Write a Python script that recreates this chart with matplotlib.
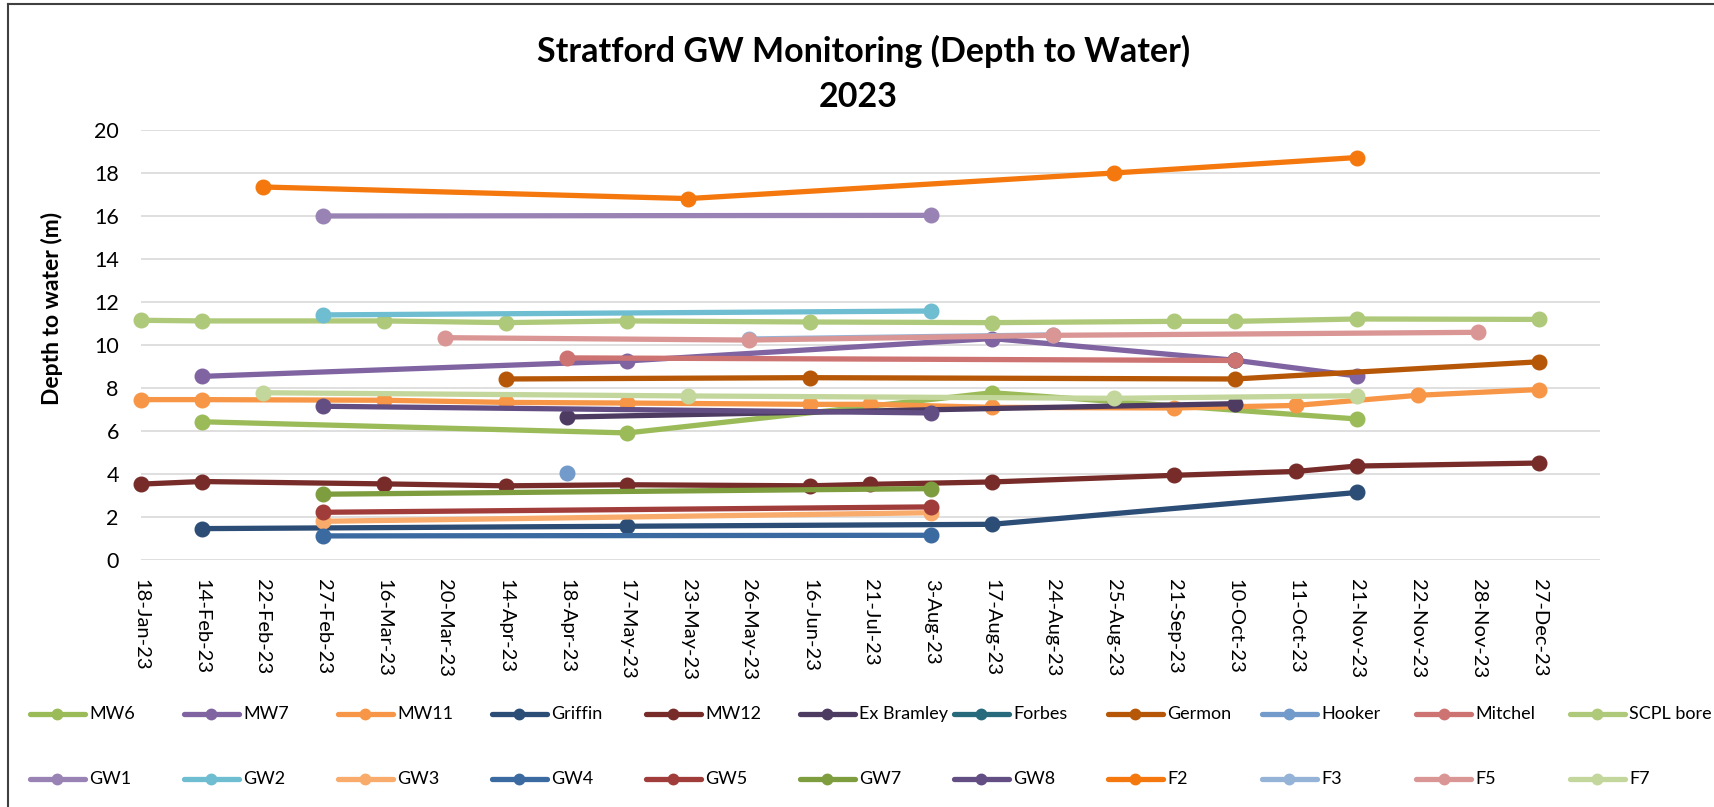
import numpy as np
import matplotlib.pyplot as plt
from matplotlib.lines import Line2D

plt.rcParams['font.family'] = ['Lato', 'DejaVu Sans']

N = None

# category axis (Excel text categories)
dates = ['18-Jan-23', '14-Feb-23', '22-Feb-23', '27-Feb-23', '16-Mar-23', '20-Mar-23',
         '14-Apr-23', '18-Apr-23', '17-May-23', '23-May-23', '26-May-23', '16-Jun-23',
         '21-Jul-23', '3-Aug-23', '17-Aug-23', '24-Aug-23', '25-Aug-23', '21-Sep-23',
         '10-Oct-23', '11-Oct-23', '21-Nov-23', '22-Nov-23', '28-Nov-23', '27-Dec-23']

# depth to water (m), one value per date, None = not measured
mw6 = [N, 6.43, N, N, N, N, N, N, 5.91, N, N, N, N, N, 7.78, N, N, N, N, N, 6.56, N, N, N]
mw7 = [N, 8.54, N, N, N, N, N, N, 9.26, N, N, N, N, N, 10.30, N, N, N, 9.29, N, 8.56, N, N, N]
mw11 = [7.46, 7.46, N, N, 7.43, N, 7.33, N, 7.30, N, N, 7.24, 7.24, N, 7.10, N, N, 7.07, N, 7.19, N, 7.66, N, 7.93]
griffin = [N, 1.46, N, N, N, N, N, N, 1.57, N, N, N, N, N, 1.66, N, N, N, N, N, 3.14, N, N, N]
mw12 = [3.53, 3.65, N, N, 3.54, N, 3.45, N, 3.50, N, N, 3.45, 3.52, N, 3.63, N, N, 3.94, N, 4.12, 4.37, N, N, 4.51]
ex_bramley = [N, N, N, N, N, N, N, 6.65, N, N, N, N, N, N, N, N, N, N, 7.27, N, N, N, N, N]
forbes = [N, N, N, N, N, N, N, N, N, N, N, N, N, N, N, N, N, N, 9.32, N, N, N, N, N]
germon = [N, N, N, N, N, N, 8.42, N, N, N, N, 8.48, N, N, N, N, N, N, 8.42, N, N, N, N, 9.22]
hooker = [N, N, N, N, N, N, N, 4.05, N, N, N, N, N, N, N, N, N, N, N, N, N, N, N, N]
mitchel = [N, N, N, N, N, N, N, 9.40, N, N, N, N, N, N, N, N, N, N, 9.28, N, N, N, N, N]
scpl = [11.15, 11.12, N, N, 11.12, N, 11.04, N, 11.12, N, N, 11.07, N, N, 11.04, N, N, 11.10, 11.10, N, 11.21, N, N, 11.19]
gw1 = [N, N, N, 16.00, N, N, N, N, N, N, N, N, N, 16.03, N, N, N, N, N, N, N, N, N, N]
gw2 = [N, N, N, 11.40, N, N, N, N, N, N, N, N, N, 11.58, N, N, N, N, N, N, N, N, N, N]
gw3 = [N, N, N, 1.80, N, N, N, N, N, N, N, N, N, 2.20, N, N, N, N, N, N, N, N, N, N]
gw4 = [N, N, N, 1.12, N, N, N, N, N, N, N, N, N, 1.15, N, N, N, N, N, N, N, N, N, N]
gw5 = [N, N, N, 2.22, N, N, N, N, N, N, N, N, N, 2.47, N, N, N, N, N, N, N, N, N, N]
gw7 = [N, N, N, 3.06, N, N, N, N, N, N, N, N, N, 3.32, N, N, N, N, N, N, N, N, N, N]
gw8 = [N, N, N, 7.15, N, N, N, N, N, N, N, N, N, 6.84, N, N, N, N, N, N, N, N, N, N]
f2 = [N, N, 17.35, N, N, N, N, N, N, 16.81, N, N, N, N, N, N, 18.00, N, N, N, 18.72, N, N, N]
f3 = [N, N, N, N, N, N, N, N, N, N, 10.28, N, N, N, N, 10.47, N, N, N, N, N, N, N, N]
f5 = [N, N, N, N, N, 10.34, N, N, N, N, 10.23, N, N, N, N, 10.45, N, N, N, N, N, N, 10.59, N]
f7 = [N, N, 7.78, N, N, N, N, N, N, 7.63, N, N, N, N, N, N, 7.52, N, N, N, 7.64, N, N, N]

names = ['MW6', 'MW7', 'MW11', 'Griffin', 'MW12', 'Ex Bramley', 'Forbes', 'Germon',
         'Hooker', 'Mitchel', 'SCPL bore', 'GW1', 'GW2', 'GW3', 'GW4', 'GW5', 'GW7',
         'GW8', 'F2', 'F3', 'F5', 'F7']
series = [mw6, mw7, mw11, griffin, mw12, ex_bramley, forbes, germon, hooker, mitchel,
          scpl, gw1, gw2, gw3, gw4, gw5, gw7, gw8, f2, f3, f5, f7]
colors = ['#9BBB59', '#8064A2', '#F79646', '#2C4D75', '#772C2A', '#4D3B62', '#276A7C',
          '#B65708', '#729ACA', '#CD7371', '#AFC97A', '#9983B5', '#6FBDD1', '#F9AB6B',
          '#3B6AA0', '#A03C3A', '#7E9D3F', '#634E83', '#F4780D', '#95B3D7', '#D99694',
          '#C3D69B']

W, H = 1715, 807
fig = plt.figure(figsize=(W / 100, H / 100), dpi=100)
ax = fig.add_axes([141 / W, 1 - 560 / H, (1600 - 141) / W, (560 - 130) / H])

x = np.arange(len(dates))
for name, vals, col in zip(names, series, colors):
    y = np.array([np.nan if v is None else v for v in vals], float)
    ok = ~np.isnan(y)
    # Excel joins points across empty cells
    ax.plot(x[ok], y[ok], '-o', color=col, lw=3.8, ms=10.5, clip_on=False,
            solid_capstyle='round', label=name)

ax.set_xlim(0, len(dates))
ax.set_ylim(0, 20)
ax.set_yticks(np.arange(0, 21, 2))
ax.set_xticks(x)
ax.set_xticklabels(dates, rotation=-90, fontsize=14.5)
ax.tick_params(length=0)
ax.tick_params(axis='x', pad=14)
ax.tick_params(axis='y', pad=16, labelsize=15.5)
ax.grid(axis='y', color='#D9D9D9', lw=1.2)
ax.set_axisbelow(True)
for s in ax.spines.values():
    s.set_visible(False)

fig.text(52 / W, 1 - 308 / H, 'Depth to water (m)', rotation=90, ha='center',
         va='center', fontsize=16.5, fontweight='bold')
fig.text(864 / W, 1 - 51 / H, 'Stratford GW Monitoring (Depth to Water)', ha='center',
         va='center', fontsize=24.5, fontweight='bold')
fig.text(858 / W, 1 - 97 / H, '2023', ha='center', va='center', fontsize=24.5,
         fontweight='bold')

# legend, Excel style: 11 equal columns, filled row by row
for k, (name, col) in enumerate(zip(names, colors)):
    x0 = 30 + 154 * (k % 11)
    yy = 1 - (714 if k < 11 else 779) / H
    fig.add_artist(Line2D([x0 / W, (x0 + 55) / W], [yy, yy], color=col, lw=3.8,
                          solid_capstyle='round'))
    fig.add_artist(Line2D([(x0 + 27.5) / W], [yy], color=col, marker='o', ms=7.5))
    fig.text((x0 + 59) / W, yy, name, ha='left', va='center', fontsize=13)

# chart border (cropped on right and bottom)
fig.add_artist(Line2D([8 / W, 8 / W], [0, 1 - 4 / H], color='#404040', lw=1.5))
fig.add_artist(Line2D([8 / W, 1], [1 - 4 / H, 1 - 4 / H], color='#404040', lw=1.5))

fig.savefig('out.png', dpi=100)
